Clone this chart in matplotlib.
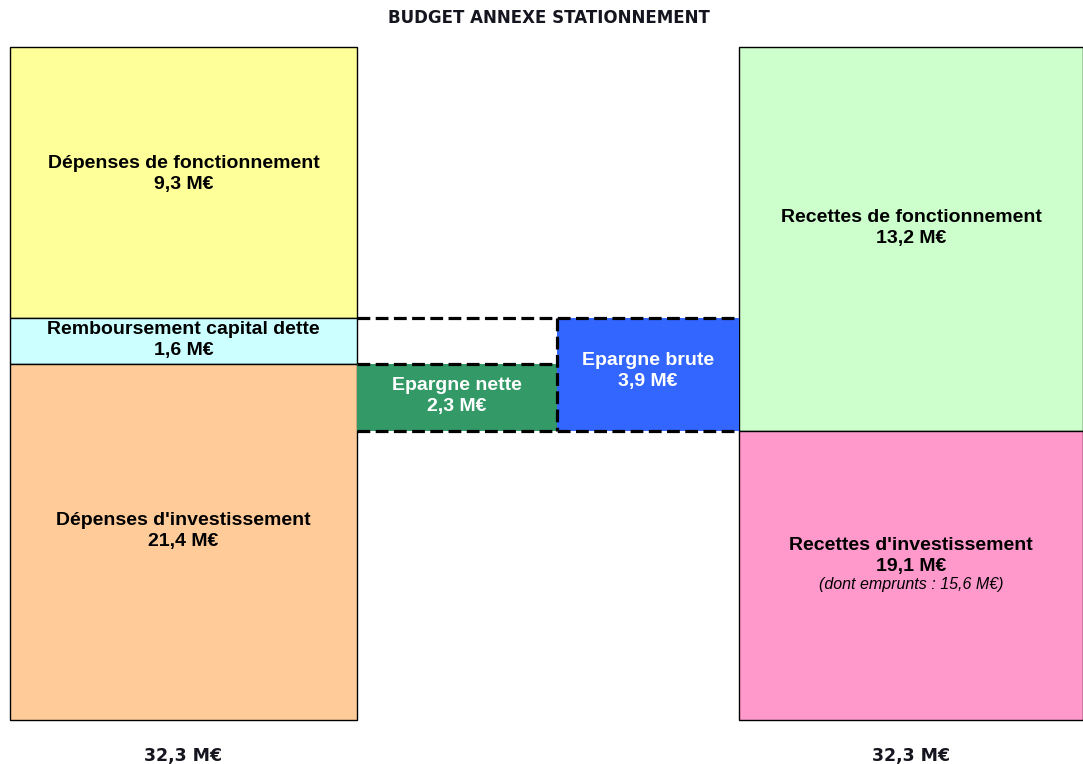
"""
Budget annexe stationnement: schematic block chart of expenses and revenues.
"""

import matplotlib

matplotlib.use("Agg")
import matplotlib.pyplot as plt

# -----------------------------
# Data (M€)
# -----------------------------
TITLE = "BUDGET ANNEXE STATIONNEMENT"

DEPENSES_LABELS = ["Dépenses de fonctionnement", "Remboursement capital dette", "Dépenses d'investissement"]
DEPENSES_VALUES = [9.3, 1.6, 21.4]

RECETTES_LABELS = ["Recettes de fonctionnement", "Recettes d'investissement"]
RECETTES_VALUES = [13.2, 19.1]
EMPRUNTS = 15.6

EPARGNE_LABELS = ["Epargne nette", "Epargne brute"]
EPARGNE_VALUES = [2.3, 3.9]

TOTALS = [32.3, 32.3]

# -----------------------------
# Layout (figure pixels) and colours
# -----------------------------
W, H = 1083, 764
TOP = 47
LEFT_X, LEFT_W = 10, 347
MID1_X, MID1_W = 357, 200
MID2_X, MID2_W = 557, 182
RIGHT_X, RIGHT_W = 739, 344
LINE_STEP = 21

# the sketch is not to scale: operating part and investment part use two scales
FONCT_SCALE = 29.1
INVEST_SCALE = 15.13

YELLOW = "#FFFF99"
CYAN = "#CCFFFF"
PEACH = "#FFCC99"
LIGHT_GREEN = "#CCFFCC"
PINK = "#FF99CC"
DARK_GREEN = "#339966"
BLUE = "#3366FF"
TEXT_DARK = "#15151f"


def euros(v):
    return f"{v:.1f}".replace(".", ",") + " M€"


def block(ax, x, w, y, h, color):
    ax.bar(x, h, width=w, bottom=y, align="edge", color=color,
           edgecolor="black", linewidth=1.0, zorder=2)


def label(ax, x, w, y, h, lines, color="black", extra=None):
    # text sits a little above the middle of each block, like the original
    cy = y + h / 2 - 0.03 * h
    cx = x + w / 2
    n = len(lines) + (1 if extra else 0)
    start = cy - (n - 1) * LINE_STEP / 2
    for i, t in enumerate(lines):
        ax.text(cx, start + i * LINE_STEP, t, ha="center", va="center", fontsize=14,
                fontweight="bold", color=color, family="Liberation Sans", zorder=5)
    if extra:
        ax.text(cx, start + len(lines) * LINE_STEP - 3, extra, ha="center", va="center",
                fontsize=11.5, fontstyle="italic", color=color,
                family="Liberation Sans", zorder=5)


fig = plt.figure(figsize=(W / 100, H / 100), dpi=100)
ax = fig.add_axes([0, 0, 1, 1])
ax.set_xlim(0, W)
ax.set_ylim(H, 0)
ax.axis("off")

# left column: expenses
dep_f, remb, dep_i = DEPENSES_VALUES
ep_nette, ep_brute = EPARGNE_VALUES
rec_f, rec_i = RECETTES_VALUES
h_dep_f = dep_f * FONCT_SCALE
h_remb = remb * FONCT_SCALE
h_nette = ep_nette * FONCT_SCALE
h_brute = ep_brute * FONCT_SCALE
h_rec_f = rec_f * FONCT_SCALE
h_rec_i = rec_i * INVEST_SCALE
h_dep_i = h_nette + (dep_i - ep_nette) * INVEST_SCALE

y_remb = TOP + h_dep_f
y_dep_i = y_remb + h_remb
block(ax, LEFT_X, LEFT_W, TOP, h_dep_f, YELLOW)
block(ax, LEFT_X, LEFT_W, y_remb, h_remb, CYAN)
block(ax, LEFT_X, LEFT_W, y_dep_i, h_dep_i, PEACH)
label(ax, LEFT_X, LEFT_W, TOP, h_dep_f, [DEPENSES_LABELS[0], euros(dep_f)])
label(ax, LEFT_X, LEFT_W, y_remb, h_remb, [DEPENSES_LABELS[1], euros(remb)])
label(ax, LEFT_X, LEFT_W, y_dep_i, h_dep_i, [DEPENSES_LABELS[2], euros(dep_i)])

# right column: revenues
y_rec_i = TOP + h_rec_f
block(ax, RIGHT_X, RIGHT_W, TOP, h_rec_f, LIGHT_GREEN)
block(ax, RIGHT_X, RIGHT_W, y_rec_i, h_rec_i, PINK)
label(ax, RIGHT_X, RIGHT_W, TOP, h_rec_f, [RECETTES_LABELS[0], euros(rec_f)])
label(ax, RIGHT_X, RIGHT_W, y_rec_i, h_rec_i, [RECETTES_LABELS[1], euros(rec_i)],
      extra=f"(dont emprunts : {euros(EMPRUNTS)})")

# middle: savings
y_brute = y_rec_i - h_brute
y_nette = y_rec_i - h_nette
ax.bar(MID1_X, h_nette, width=MID1_W, bottom=y_nette, align="edge",
       color=DARK_GREEN, linewidth=0, zorder=2)
ax.bar(MID2_X, h_brute, width=MID2_W, bottom=y_brute, align="edge",
       color=BLUE, linewidth=0, zorder=2)
label(ax, MID1_X, MID1_W, y_nette, h_nette, [EPARGNE_LABELS[0], euros(ep_nette)], color="white")
label(ax, MID2_X, MID2_W, y_brute, h_brute, [EPARGNE_LABELS[1], euros(ep_brute)], color="white")

dash = dict(color="black", linewidth=2.3, linestyle=(0, (4, 1.7)), zorder=4)
ax.plot([MID1_X, RIGHT_X], [y_brute, y_brute], **dash)
ax.plot([MID1_X, RIGHT_X], [y_rec_i, y_rec_i], **dash)
ax.plot([MID1_X, MID2_X], [y_nette, y_nette], **dash)
ax.plot([MID2_X, MID2_X], [y_brute, y_rec_i], **dash)

# title and totals
ax.text(W / 2 + 7, 18, TITLE, ha="center", va="center", fontsize=12,
        fontweight="bold", color=TEXT_DARK, family="DejaVu Sans")
for cx, total in zip([LEFT_X + LEFT_W / 2, RIGHT_X + RIGHT_W / 2], TOTALS):
    ax.text(cx, 756, euros(total), ha="center", va="center", fontsize=12.5,
            fontweight="bold", color=TEXT_DARK, family="DejaVu Sans")

fig.savefig("out.png", dpi=100, facecolor="white")
